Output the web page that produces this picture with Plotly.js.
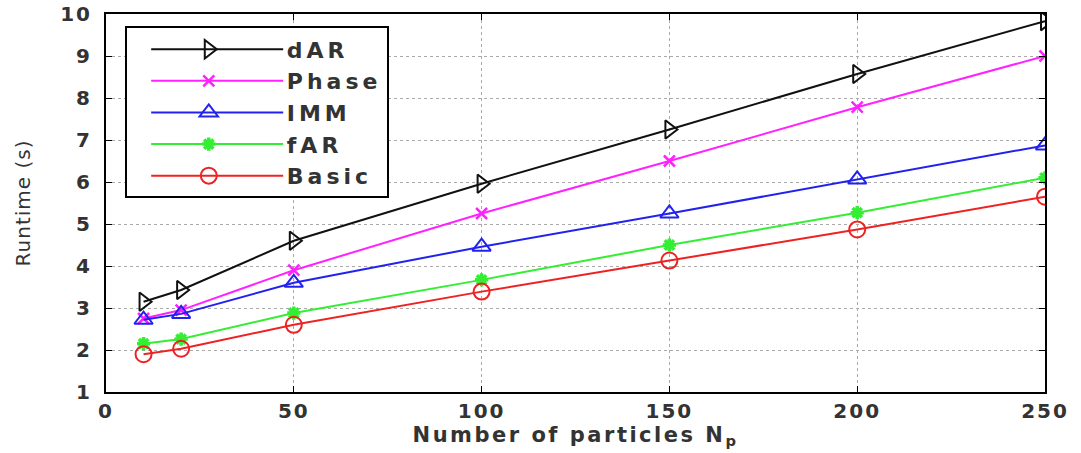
<!DOCTYPE html>
<html>
<head>
<meta charset="utf-8">
<script src="https://cdn.plot.ly/plotly-3.0.1.min.js"></script>
<style>
  html, body { margin: 0; padding: 0; background: #fff; }
  #chart { width: 1081px; height: 453px; }
  .legendtext { letter-spacing: 4px; }
  .xtitle { letter-spacing: 2.5px; }
  .ytitle { letter-spacing: 1px; }
  .xtick text, .ytick text { letter-spacing: 2px; }
  .legend .legendlines { transform: translate(20px, 0) scaleX(0.88); }
  .legend .legendsymbols { transform: translate(2px, 0); }
</style>
</head>
<body>
<div id="chart"></div>
<script>
const particles = [10, 20, 50, 100, 150, 200, 250];
const seriesNames = ["dAR", "Phase", "IMM", "fAR", "Basic"];
const dAR   = [3.15, 3.43, 4.60, 5.96, 7.25, 8.57, 9.83];
const phase = [2.75, 2.95, 3.90, 5.25, 6.50, 7.78, 9.00];
const imm   = [2.72, 2.86, 3.60, 4.46, 5.25, 6.06, 6.87];
const fAR   = [2.15, 2.26, 2.88, 3.67, 4.50, 5.27, 6.10];
const basic = [1.90, 2.03, 2.60, 3.39, 4.13, 4.87, 5.65];
const xTicks = [0, 50, 100, 150, 200, 250];
const yTicks = [1, 2, 3, 4, 5, 6, 7, 8, 9, 10];

const values = [dAR, phase, imm, fAR, basic];
const colors = ["#111111", "#ff22ff", "#2222ee", "#33ee33", "#ee2222"];
const symbols = ["triangle-right-open", "x-thin-open", "triangle-up-open", "asterisk-open", "circle-open"];
const sizes = [16, 11, 16, 11, 16];
const mlw = [2, 2.5, 2, 3.5, 2];

const traces = seriesNames.map((n, i) => ({
  x: particles, y: values[i], name: n, type: "scatter", mode: "lines+markers",
  line: { color: colors[i], width: 2 },
  marker: { symbol: symbols[i], size: sizes[i], color: colors[i], line: { color: colors[i], width: mlw[i] } }
}));

const F = "DejaVu Sans, Arial, sans-serif";
const layout = {
  width: 1081, height: 453,
  margin: { l: 106, r: 36, t: 14, b: 61 },
  paper_bgcolor: "#fff", plot_bgcolor: "#fff",
  showlegend: true,
  legend: {
    x: 0.02, y: 0.967, xanchor: "left", yanchor: "top",
    bgcolor: "#fff", bordercolor: "#000", borderwidth: 2,
    font: { family: F, size: 22, color: "#333", weight: "bold" },
    itemwidth: 150, tracegroupgap: 0
  },
  xaxis: {
    range: [0, 250], tickvals: xTicks, ticktext: xTicks.map(String),
    showline: true, linecolor: "#000", linewidth: 2, mirror: "ticks",
    ticks: "inside", ticklen: 6, tickcolor: "#000",
    showgrid: true, gridcolor: "#aaa", griddash: "dot", gridwidth: 1,
    zeroline: false,
    tickfont: { family: F, size: 20, color: "#333", weight: "bold" },
    title: { text: "Number of particles N<sub>p</sub>", font: { family: F, size: 21, color: "#333", weight: "bold" }, standoff: 4 }
  },
  yaxis: {
    range: [1, 10], tickvals: yTicks, ticktext: yTicks.map(String),
    showline: true, linecolor: "#000", linewidth: 2, mirror: "ticks",
    ticks: "inside", ticklen: 6, tickcolor: "#000",
    showgrid: true, gridcolor: "#aaa", griddash: "dot", gridwidth: 1,
    zeroline: false, ticklabelstandoff: 8,
    tickfont: { family: F, size: 20, color: "#333", weight: "bold" },
    title: { text: "Runtime (s)", font: { family: F, size: 20, color: "#333" }, standoff: 24 }
  }
};

Plotly.newPlot("chart", traces, layout, { displayModeBar: false, staticPlot: true });
</script>
</body>
</html>
